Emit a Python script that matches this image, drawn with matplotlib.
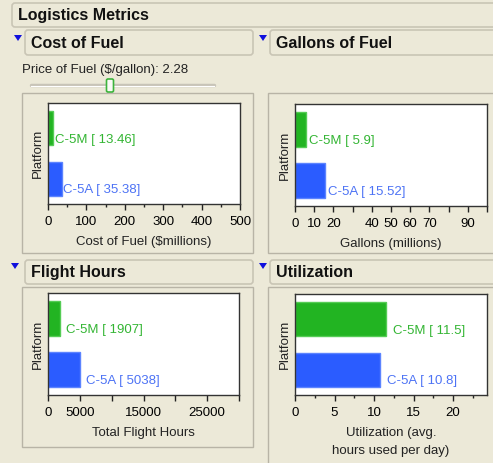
import matplotlib
matplotlib.use('Agg')
import matplotlib.pyplot as plt
from matplotlib.patches import FancyBboxPatch, Rectangle, Polygon
from matplotlib.ticker import FixedLocator, FixedFormatter, MultipleLocator

plt.rcParams['font.family'] = ['Liberation Sans', 'DejaVu Sans']

W, H = 493, 463

# --- Data ---
platforms = ['C-5A', 'C-5M']
fuel_cost = [35.38, 13.46]          # $ millions
fuel_gallons = [15.52, 5.9]         # millions of gallons
flight_hours = [5038, 1907]
utilization = [10.8, 11.5]          # avg hours used per day
fuel_price = 2.28

gallon_ticks = [0, 10, 20, 30, 40, 50, 60, 70, 80, 90, 100]
gallon_labels = ['0', '10', '20', '', '40', '50', '60', '70', '', '90', '']
hour_ticks = [0, 5000, 10000, 15000, 20000, 25000, 30000]
hour_labels = ['0', '5000', '', '15000', '', '25000', '']

# --- Colours ---
BG = '#ECE9D8'
BOX_EDGE = '#C9C5B5'
PANEL_EDGE = '#B8B4A6'
BAR_COLORS = ['#2B5CFF', '#22B422']
BAR_EDGES = ['#5C84FF', '#55CC55']
TXT_COLORS = ['#4D73F5', '#33B533']
FS = 9.5

fig = plt.figure(figsize=(W / 100, H / 100), dpi=100)
fig.patch.set_facecolor(BG)

# overlay in pixel coordinates (y down)
bg = fig.add_axes([0, 0, 1, 1])
bg.set_xlim(0, W)
bg.set_ylim(H, 0)
bg.axis('off')


def header(x0, y0, x1, y1, title, tri=None, size=11.5):
    bg.add_patch(FancyBboxPatch((x0, y0), x1 - x0, y1 - y0,
                                boxstyle='round,pad=0,rounding_size=3',
                                fc=BG, ec=BOX_EDGE, lw=1.2))
    bg.text(x0 + 6, (y0 + y1) / 2 + 0.5, title, fontsize=size, fontweight='bold',
            color='#111111', va='center', ha='left')
    if tri is not None:
        tx, ty = tri
        bg.add_patch(Polygon([(tx - 4, ty - 3), (tx + 4, ty - 3), (tx, ty + 3)],
                             closed=True, fc='#1010DD', ec='none'))


def panel(x0, y0, x1, y1):
    bg.add_patch(Rectangle((x0, y0), x1 - x0, y1 - y0, fc=BG, ec=PANEL_EDGE, lw=1.0))


header(12, 3, 510, 27, 'Logistics Metrics')
header(25, 30, 253, 55, 'Cost of Fuel', tri=(18, 38))
header(270, 30, 510, 55, 'Gallons of Fuel', tri=(263, 38))
header(25, 260, 253, 284, 'Flight Hours', tri=(15, 266))
header(270, 260, 510, 284, 'Utilization', tri=(263, 266))

panel(22, 93, 253, 253)
panel(268, 93, 510, 253)
panel(22, 287, 253, 447)
panel(268, 287, 510, 480)

# price slider
bg.text(22, 70, f'Price of Fuel ($/gallon): {fuel_price}', fontsize=FS,
        color='#222222', va='center', ha='left')
bg.plot([31, 214], [85, 85], color='#C8C4B8', lw=2.5, solid_capstyle='round')
bg.plot([31, 214], [86, 86], color='#FFFFFF', lw=0.8)
bg.add_patch(FancyBboxPatch((106.5, 79), 7, 13, boxstyle='round,pad=0,rounding_size=1.5',
                            fc='#FAFAF6', ec='#3CB43C', lw=1.2, zorder=3))


def px_axes(x0, y0, x1, y1):
    return fig.add_axes([x0 / W, 1 - y1 / H, (x1 - x0) / W, (y1 - y0) / H])


def bar_chart(ax, values, xlim, xlabel, fmt, offset=3):
    ax.set_facecolor('white')
    ypos = list(range(len(platforms)))
    ax.barh(ypos, values, height=0.67, color=BAR_COLORS, edgecolor=BAR_EDGES,
            linewidth=1.0, zorder=2)
    for y, v, name, c in zip(ypos, values, platforms, TXT_COLORS):
        ax.annotate(f'{name} [ {fmt(v)}]', xy=(v, y - 0.23), xytext=(offset, 0),
                    textcoords='offset points', fontsize=FS, color=c,
                    va='center', ha='left', zorder=3)
    ax.set_xlim(*xlim)
    ax.set_ylim(-0.5, 1.5)
    ax.set_yticks([])
    ax.set_ylabel('Platform', fontsize=FS, color='#222222', labelpad=3)
    ax.set_xlabel(xlabel, fontsize=FS, color='#222222', labelpad=6,
                  linespacing=1.6)
    ax.tick_params(axis='x', which='major', direction='out', length=4.5,
                   width=1, labelsize=FS, color='#222222', pad=4)
    ax.tick_params(axis='x', which='minor', direction='out', length=2.5,
                   width=1, color='#222222')
    for s in ax.spines.values():
        s.set_color('#333333')
        s.set_linewidth(1.0)


ax1 = px_axes(48, 103, 240, 204)
bar_chart(ax1, fuel_cost, (0, 500), 'Cost of Fuel ($millions)', lambda v: f'{v:.2f}', 1)
ax1.xaxis.set_major_locator(MultipleLocator(100))
ax1.xaxis.set_minor_locator(MultipleLocator(50))

ax2 = px_axes(295, 104, 487, 206)
bar_chart(ax2, fuel_gallons, (0, 100), 'Gallons (millions)', lambda v: f'{v:g}', 2)
ax2.xaxis.set_major_locator(FixedLocator(gallon_ticks))
ax2.xaxis.set_major_formatter(FixedFormatter(gallon_labels))

ax3 = px_axes(48, 293, 239, 395)
bar_chart(ax3, flight_hours, (0, 30000), 'Total Flight Hours', lambda v: f'{v:d}', 4)
ax3.xaxis.set_major_locator(FixedLocator(hour_ticks))
ax3.xaxis.set_major_formatter(FixedFormatter(hour_labels))

ax4 = px_axes(295, 294, 487, 395)
bar_chart(ax4, utilization, (0, 24.3), 'Utilization (avg.\nhours used per day)',
          lambda v: f'{v:g}', 5)
ax4.xaxis.set_major_locator(MultipleLocator(5))
ax4.xaxis.set_minor_locator(MultipleLocator(2.5))

fig.savefig('out.png', dpi=100, facecolor=BG)
